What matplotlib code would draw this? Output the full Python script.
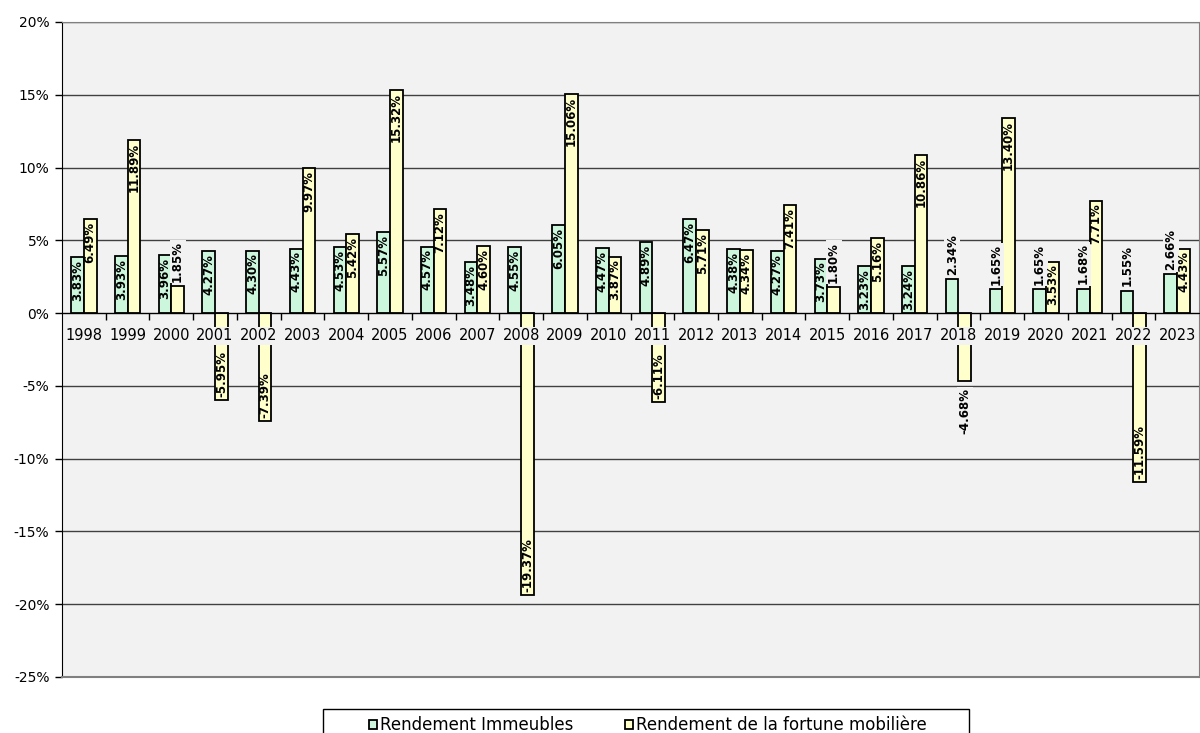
import numpy as np
import matplotlib.pyplot as plt
from matplotlib.patches import Rectangle
from matplotlib.ticker import FixedLocator, FuncFormatter

plt.rcParams['font.family'] = ['DejaVu Sans']

years = [str(y) for y in range(1998, 2024)]
immeubles = [3.83, 3.93, 3.96, 4.27, 4.30, 4.43, 4.53, 5.57, 4.57, 3.48, 4.55, 6.05, 4.47,
             4.89, 6.47, 4.38, 4.27, 3.73, 3.23, 3.24, 2.34, 1.65, 1.65, 1.68, 1.55, 2.66]
mobiliere = [6.49, 11.89, 1.85, -5.95, -7.39, 9.97, 5.42, 15.32, 7.12, 4.60, -19.37, 15.06, 3.87,
             -6.11, 5.71, 4.34, 7.41, 1.80, 5.16, 10.86, -4.68, 13.40, 3.53, 7.71, -11.59, 4.43]
series_names = ['Rendement Immeubles', 'Rendement de la fortune mobilière']

green = '#CCF7DD'
yellow = '#FFFFCC'
plot_bg = '#F2F2F2'

fig = plt.figure(figsize=(12, 7.33), dpi=100)
ax = fig.add_axes([62 / 1200, 1 - 677 / 733, 1137 / 1200, 655 / 733])
ax.set_facecolor(plot_bg)

x = np.arange(len(years))
w = 0.29
b1 = ax.bar(x - w / 2, immeubles, w, color=green, edgecolor='black', linewidth=1.3,
            label=series_names[0], zorder=2)
b2 = ax.bar(x + w / 2, mobiliere, w, color=yellow, edgecolor='black', linewidth=1.3,
            label=series_names[1], zorder=2)


def put_label(xc, v):
    txt = f'{v:.2f}%'
    inside = (v > 0 and v >= 2.7) or (v < 0 and v <= -5)
    kw = dict(rotation=90, ha='center', fontsize=8.5, fontweight='bold',
              textcoords='offset points', zorder=4)
    if v >= 0:
        if inside:
            ax.annotate(txt, (xc, v), xytext=(0, -2), va='top', **kw)
        else:
            ax.annotate(txt, (xc, v), xytext=(0, 3), va='bottom',
                        bbox=dict(facecolor=plot_bg, edgecolor='none', pad=1), **kw)
    else:
        if inside:
            ax.annotate(txt, (xc, v), xytext=(0, 2), va='bottom', **kw)
        else:
            ax.annotate(txt, (xc, v), xytext=(0, -5), va='top',
                        bbox=dict(facecolor=plot_bg, edgecolor='none', pad=1), **kw)


for i in range(len(years)):
    put_label(x[i] - w / 2, immeubles[i])
    put_label(x[i] + w / 2, mobiliere[i])

ax.set_xlim(-0.5, len(years) - 0.5)
ax.set_ylim(-25, 20)
ax.set_yticks(np.arange(-25, 21, 5))
ax.yaxis.set_major_formatter(FuncFormatter(lambda v, p: f'{v:.0f}%'))
ax.tick_params(axis='y', direction='out', length=5, width=1, labelsize=10, pad=4)
ax.grid(axis='y', color='#404040', linewidth=1, zorder=0)
ax.set_axisbelow(True)

# x axis sits on the zero line; ticks between groups, labels at the centres
ax.spines['bottom'].set_position(('data', 0))
ax.spines['bottom'].set_zorder(3)
ax.xaxis.set_zorder(5)
ax.xaxis.set_major_locator(FixedLocator(x[:-1] + 0.5))
ax.xaxis.set_major_formatter(FuncFormatter(lambda v, p: ''))
ax.xaxis.set_minor_locator(FixedLocator(x))
ax.set_xticklabels(years, minor=True)
ax.tick_params(axis='x', which='major', direction='out', length=5, width=1)
ax.tick_params(axis='x', which='minor', length=0, labelsize=10.5, pad=11)
for lbl in ax.get_xticklabels(minor=True):
    lbl.set_bbox(dict(facecolor=plot_bg, edgecolor='none', pad=1))

for side in ['top', 'right']:
    ax.spines[side].set_color('#808080')
ax.spines['left'].set_color('black')
ax.axhline(-25, color='#808080', linewidth=1.5, clip_on=False, zorder=3)

# legend: centred entries inside a fixed-width box that runs off the bottom
fig.patches.append(Rectangle((323 / 1200, -0.05), 646 / 1200, 0.05 + 1 - 709 / 733,
                             transform=fig.transFigure, facecolor='white',
                             edgecolor='black', linewidth=1))
leg = fig.legend(handles=[b1, b2], loc='center', ncol=2,
                 bbox_to_anchor=(648 / 1200, 1 - 725 / 733),
                 fontsize=12, frameon=False, handlelength=0.45, handleheight=0.45,
                 handletextpad=0.2, columnspacing=3.1, borderpad=0, borderaxespad=0)

fig.savefig('out.png', dpi=100, facecolor='white')
